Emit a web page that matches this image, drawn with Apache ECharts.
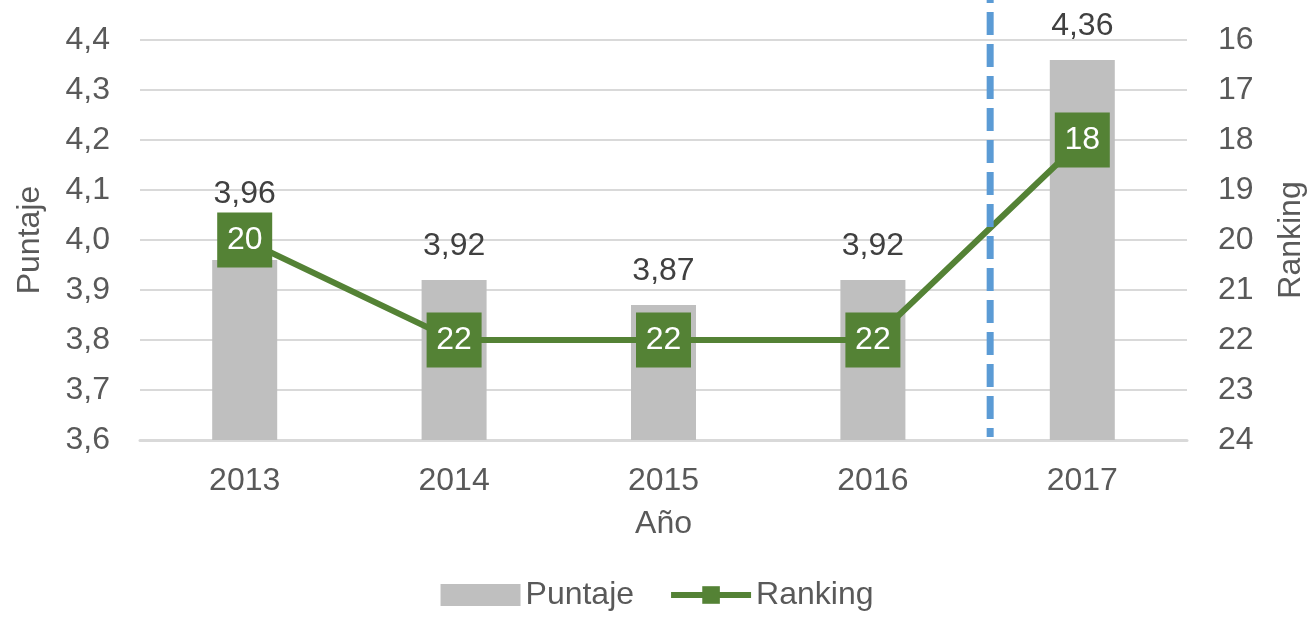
<!DOCTYPE html>
<html>
<head>
<meta charset="utf-8">
<script src="https://cdn.jsdelivr.net/npm/echarts@6/dist/echarts.min.js"></script>
<style>
  html, body { margin: 0; padding: 0; background: #ffffff; }
  #chart { width: 1314px; height: 620px; }
</style>
</head>
<body>
<div id="chart"></div>
<script>
// Score and ranking per year
const years = ['2013', '2014', '2015', '2016', '2017'];
const puntaje = [3.96, 3.92, 3.87, 3.92, 4.36];
const ranking = [20, 22, 22, 22, 18];
// Position (in category units) of the dashed divider between 2016 and 2017
const dividerPos = 3.56;

const FONT = '"Liberation Sans", Arial, sans-serif';
const AXIS_TXT = '#595959';
const FS = 32;
const comma = (v, d) => v.toFixed(d).replace('.', ',');

const chart = echarts.init(document.getElementById('chart'), null, { renderer: 'canvas' });

const barData = puntaje.map((v, i) => (
  i === 0 ? { value: v, label: { distance: 50 } } : v
));

chart.setOption({
  animation: false,
  textStyle: { fontFamily: FONT },
  grid: { left: 140, right: 127, top: 40, bottom: 180, containLabel: false, outerBoundsMode: 'none' },
  legend: {
    bottom: 4,
    left: 'center',
    itemWidth: 80,
    itemHeight: 22,
    itemGap: 34,
    textStyle: { fontSize: FS, color: AXIS_TXT, fontFamily: FONT },
    data: [
      { name: 'Puntaje', icon: 'rect' },
      { name: 'Ranking', lineStyle: { width: 6, color: '#548235' } }
    ]
  },
  xAxis: [
    {
      type: 'category',
      data: years,
      name: 'Año',
      nameLocation: 'middle',
      nameGap: 68,
      nameTextStyle: { fontSize: FS, color: AXIS_TXT },
      axisLine: { lineStyle: { color: '#d9d9d9', width: 3 } },
      axisTick: { show: false },
      axisLabel: { fontSize: FS, color: AXIS_TXT, margin: 25 }
    },
    {
      // hidden helper scale used to place the divider line
      type: 'value',
      min: -0.5,
      max: years.length - 0.5,
      show: false
    }
  ],
  yAxis: [
    {
      type: 'value',
      min: 3.6,
      max: 4.4,
      interval: 0.1,
      name: 'Puntaje',
      nameLocation: 'middle',
      nameGap: 94,
      nameRotate: 90,
      nameTextStyle: { fontSize: FS, color: AXIS_TXT },
      axisLine: { show: false },
      axisTick: { show: false },
      axisLabel: { fontSize: FS, color: AXIS_TXT, margin: 30, formatter: v => comma(v, 1) },
      splitLine: { lineStyle: { color: '#d9d9d9', width: 2 } }
    },
    {
      type: 'value',
      inverse: true,
      min: 16,
      max: 24,
      interval: 1,
      name: 'Ranking',
      nameLocation: 'middle',
      nameGap: 88,
      nameRotate: 90,
      nameTextStyle: { fontSize: FS, color: AXIS_TXT },
      axisLine: { show: false },
      axisTick: { show: false },
      axisLabel: { fontSize: FS, color: AXIS_TXT, margin: 31 },
      splitLine: { show: false }
    }
  ],
  series: [
    {
      name: 'Puntaje',
      type: 'bar',
      data: barData,
      barWidth: 65,
      itemStyle: { color: '#bfbfbf' },
      label: {
        show: true,
        position: 'top',
        distance: 18,
        fontSize: FS,
        color: '#404040',
        formatter: p => comma(p.value, 2)
      },
      z: 2
    },
    {
      name: 'Ranking',
      type: 'line',
      yAxisIndex: 1,
      data: ranking,
      symbol: 'rect',
      symbolSize: 55,
      lineStyle: { color: '#548235', width: 6 },
      itemStyle: { color: '#548235' },
      label: {
        show: true,
        position: 'inside',
        fontSize: 32,
        color: '#ffffff'
      },
      z: 3
    }
  ]
});

// Dashed blue divider, from the top of the canvas down to the category axis
function drawDivider() {
  const x = chart.convertToPixel({ xAxisIndex: 1 }, dividerPos);
  const yBottom = chart.convertToPixel({ yAxisIndex: 0 }, 3.6) - 3;
  chart.setOption({
    graphic: [{
      type: 'line',
      shape: { x1: x, y1: 0, x2: x, y2: yBottom },
      style: { stroke: '#5b9bd5', lineWidth: 7, lineDash: [23, 9], lineDashOffset: 20 },
      z: 10
    }]
  });
}
drawDivider();
</script>
</body>
</html>
